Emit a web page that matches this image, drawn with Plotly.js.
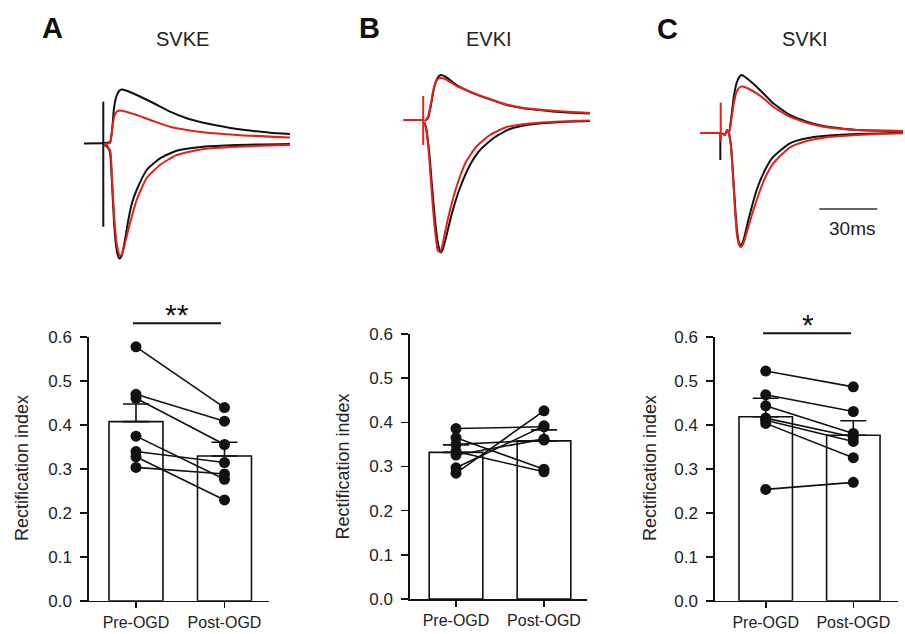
<!DOCTYPE html>
<html>
<head>
<meta charset="utf-8">
<script src="https://cdn.plot.ly/plotly-3.0.1.min.js"></script>
<style>html,body{margin:0;padding:0;background:#fff;}#chart{width:905px;height:634px;}</style>
</head>
<body>
<div id="chart"></div>
<script>
// ---------- Bar-chart data (Rectification index) ----------
const categories = ['Pre-OGD', 'Post-OGD'];
const yTicks = [0, 0.1, 0.2, 0.3, 0.4, 0.5, 0.6];

const svkePre  = [0.577, 0.469, 0.460, 0.374, 0.339, 0.327, 0.303];
const svkePost = [0.439, 0.408, 0.355, 0.276, 0.314, 0.229, 0.288];
const svkeMean = [0.407, 0.329];
const svkeSem  = [0.040, 0.031];

const evkiPre  = [0.386, 0.365, 0.350, 0.334, 0.326, 0.297, 0.285];
const evkiPost = [0.390, 0.294, 0.360, 0.288, 0.362, 0.392, 0.426];
const evkiMean = [0.332, 0.358];
const evkiSem  = [0.017, 0.025];

const svkiPre  = [0.522, 0.468, 0.443, 0.415, 0.410, 0.403, 0.253];
const svkiPost = [0.486, 0.430, 0.380, 0.372, 0.362, 0.325, 0.269];
const svkiMean = [0.418, 0.376];
const svkiSem  = [0.042, 0.033];

// ---------- Example current traces (time ms, current a.u.) ----------
// Panel A (SVKE)
const aBaseT = [2.1, 11.4];
const aBaseI = [0, 0.2];
const aArtT = [12.05, 12.05];
const aArtI = [41.8, -83.2];
const aPreOutT = [11.4, 15.5, 16.6, 17.6, 18.9, 20.2, 21.7, 23.8, 29.3, 37.9, 46.6, 55.2, 63.8, 72.4, 81.1, 89.7, 98.3, 108.6];
const aPreOutI = [0.2, 1.5, 13.5, 35.5, 47.5, 52.5, 54, 53, 48.5, 40.5, 31.8, 25.2, 20.8, 17.5, 14.5, 12.5, 10.8, 9.5];
const aPostOutT = [12.4, 15.5, 16.6, 17.8, 19.1, 20.7, 23.3, 29.3, 37.9, 46.6, 55.2, 63.8, 81.1, 108.6];
const aPostOutI = [-0.5, 0.5, 13.5, 27.5, 32, 33, 32, 28.5, 22.5, 16.8, 13.5, 11.2, 8.5, 6];
const aPreInT = [11.9, 14.0, 15.5, 16.6, 17.6, 18.6, 19.7, 20.4, 21.5, 22.8, 25.0, 26.9, 29.3, 34.5, 41.4, 50.0, 63.8, 81.1, 108.6];
const aPreInI = [-0.5, -2.5, -8.5, -41.5, -78.5, -101.5, -112.5, -115, -112.5, -101.5, -76.5, -59.5, -46.5, -26.5, -14.8, -7.2, -3.2, -1.5, -0.5];
const aPostInT = [12.4, 15.5, 16.6, 17.8, 19.1, 20.4, 21.5, 22.8, 25.9, 29.3, 34.5, 41.4, 50.0, 63.8, 81.1, 108.6];
const aPostInI = [-1.5, -6.5, -36.5, -76.5, -101.5, -111.5, -111.5, -103.5, -79.5, -56.5, -34.5, -21.5, -11.5, -5.5, -3.2, -1.5];

// Panel B (EVKI)
const bBaseT = [4.3, 14.6];
const bBaseI = [0, 0];
const bArtT = [14.6, 14.6];
const bArtI = [24, -25];
const bPreOutT = [15.5, 17.1, 18.6, 20.2, 21.7, 23.6, 25.9, 31.9, 40.5, 49.1, 57.8, 66.4, 75.0, 83.7, 100.9];
const bPreOutI = [-1, 2, 15, 32, 41, 45, 43.5, 35, 26.7, 20.7, 15, 11.7, 10, 8.3, 6.5];
const bPostOutT = [15.5, 17.1, 18.6, 20.2, 21.7, 23.3, 25.9, 31.9, 40.5, 49.1, 57.8, 66.4, 83.7, 100.9];
const bPostOutI = [-1, 3, 17, 33, 40, 42, 41, 34, 27, 21, 15.5, 12, 9, 7];
const bPreInT = [15.0, 16.0, 17.6, 19.1, 20.7, 22.2, 23.6, 24.8, 26.7, 29.5, 33.6, 38.8, 44.0, 51.7, 59.5, 69.8, 85.4, 100.9];
const bPreInI = [-2, -7, -30, -65, -100, -123, -132.5, -129, -115, -93, -68, -45, -30, -17, -9, -4.5, -2, -1];
const bPostInT = [15.0, 16.0, 17.6, 19.1, 20.7, 22.2, 23.3, 24.6, 25.9, 28.5, 32.1, 36.7, 41.9, 49.1, 57.8, 69.8, 85.4, 100.9];
const bPostInI = [-2, -8, -35, -75, -110, -131, -132, -125, -112, -90, -65, -42, -27, -15, -7, -3.5, -1.5, -0.5];

// Panel C (SVKI)
const cBaseT = [2.6, 12.9];
const cBaseI = [0, 0];
const cArtPreT = [13.1, 13.1];
const cArtPreI = [0, -27];
const cArtPostT = [13.3, 13.3];
const cArtPostI = [30.3, -8.7];
const cPreOutT = [14.0, 15.5, 16.6, 17.6, 18.6, 20.2, 21.7, 23.3, 24.3, 25.9, 28.5, 31.9, 36.2, 40.5, 49.1, 57.8, 66.4, 75.0, 83.7, 107.6];
const cPreOutI = [0, -2, 3, 0, 13, 38, 51, 57, 58, 56, 52, 46.3, 38, 29.7, 18, 11.3, 7, 4.7, 3, 2];
const cPostOutT = [14.0, 15.5, 16.6, 17.6, 18.6, 20.2, 21.7, 23.3, 24.8, 26.9, 31.9, 36.2, 40.5, 49.1, 57.8, 66.4, 83.7, 107.6];
const cPostOutI = [0, -2, 3, 0, 11, 31, 42, 46, 46.5, 45, 39.7, 33.5, 26.3, 16.3, 10.3, 6.3, 3, 2];
const cPreInT = [17.6, 18.6, 19.7, 20.7, 21.7, 22.8, 23.8, 25.1, 27.6, 31.9, 36.2, 40.5, 49.1, 57.8, 66.4, 83.7, 107.6];
const cPreInI = [0, -12, -42, -72, -97, -110, -113, -107, -87, -57, -37, -23.7, -10.3, -5.3, -3, -1, 0.3];
const cPostInT = [17.6, 18.6, 19.7, 20.7, 21.7, 22.8, 23.8, 25.1, 27.6, 31.9, 36.2, 40.5, 49.1, 57.8, 66.4, 83.7, 107.6];
const cPostInI = [0, -13, -45, -77, -102, -112, -114, -110, -93.7, -67, -45, -30.3, -14.3, -8, -4.7, -2, -0.3];

const scaleBarMs = 30;
const scaleBarStart = 64.3;
const scaleBarLevel = -76;

// ---------- styling ----------
const BLACK = '#111111';
const RED = '#e3201b';
const FONT = 'Liberation Sans, Arial, Helvetica, sans-serif';
const W = 905, H = 634;
const px = v => v / W;
const py = v => 1 - v / H;

const traces = [];

function lineTrace(t, i, color, xa, ya, width) {
  return {type: 'scatter', mode: 'lines', x: t, y: i, xaxis: xa, yaxis: ya,
    line: {color: color, width: width || 2, shape: 'spline', smoothing: 0.5},
    hoverinfo: 'skip', showlegend: false};
}
function straight(t, i, color, xa, ya, width) {
  return {type: 'scatter', mode: 'lines', x: t, y: i, xaxis: xa, yaxis: ya,
    line: {color: color, width: width || 2}, hoverinfo: 'skip', showlegend: false};
}

// Panel A traces (axes x4/y4)
traces.push(straight(aBaseT, aBaseI, BLACK, 'x4', 'y4'));
traces.push(straight(aArtT, aArtI, BLACK, 'x4', 'y4', 2));
traces.push(lineTrace(aPreOutT, aPreOutI, BLACK, 'x4', 'y4'));
traces.push(lineTrace(aPreInT, aPreInI, BLACK, 'x4', 'y4'));
traces.push(lineTrace(aPostOutT, aPostOutI, RED, 'x4', 'y4'));
traces.push(lineTrace(aPostInT, aPostInI, RED, 'x4', 'y4'));

// Panel B traces (x5/y5)
traces.push(lineTrace(bPreOutT, bPreOutI, BLACK, 'x5', 'y5'));
traces.push(lineTrace(bPreInT, bPreInI, BLACK, 'x5', 'y5'));
traces.push(straight(bBaseT, bBaseI, RED, 'x5', 'y5'));
traces.push(straight(bArtT, bArtI, RED, 'x5', 'y5', 2));
traces.push(lineTrace(bPostOutT, bPostOutI, RED, 'x5', 'y5'));
traces.push(lineTrace(bPostInT, bPostInI, RED, 'x5', 'y5'));

// Panel C traces (x6/y6)
traces.push(straight(cArtPreT, cArtPreI, BLACK, 'x6', 'y6', 2));
traces.push(lineTrace(cPreOutT, cPreOutI, BLACK, 'x6', 'y6'));
traces.push(lineTrace(cPreInT, cPreInI, BLACK, 'x6', 'y6'));
traces.push(straight(cBaseT, cBaseI, RED, 'x6', 'y6'));
traces.push(straight(cArtPostT, cArtPostI, RED, 'x6', 'y6', 2));
traces.push(lineTrace(cPostOutT, cPostOutI, RED, 'x6', 'y6'));
traces.push(lineTrace(cPostInT, cPostInI, RED, 'x6', 'y6'));
// scale bar
traces.push(straight([scaleBarStart, scaleBarStart + scaleBarMs], [scaleBarLevel, scaleBarLevel], '#333', 'x6', 'y6', 1.5));

// Bar panels
function barPanel(pre, post, mean, sem, xa, ya) {
  traces.push({type: 'bar', x: [0, 1], y: mean, xaxis: xa, yaxis: ya, width: 0.61,
    marker: {color: '#ffffff', line: {color: BLACK, width: 1.6}},
    error_y: {type: 'data', symmetric: false, array: sem, arrayminus: [0, 0],
      color: BLACK, thickness: 1.6, width: 13},
    hoverinfo: 'skip', showlegend: false});
  const xs = [], ys = [];
  for (let k = 0; k < pre.length; k++) {
    xs.push(0, 1, null);
    ys.push(pre[k], post[k], null);
  }
  traces.push({type: 'scatter', mode: 'lines+markers', x: xs, y: ys, xaxis: xa, yaxis: ya,
    line: {color: BLACK, width: 1.6}, marker: {color: BLACK, size: 11},
    connectgaps: false, cliponaxis: false, hoverinfo: 'skip', showlegend: false});
}
barPanel(svkePre, svkePost, svkeMean, svkeSem, 'x', 'y');
barPanel(evkiPre, evkiPost, evkiMean, evkiSem, 'x2', 'y2');
barPanel(svkiPre, svkiPost, svkiMean, svkiSem, 'x3', 'y3');

function barX(domain, range, anchor) {
  return {domain: domain, range: range, anchor: anchor, showgrid: false, zeroline: false,
    showline: true, linecolor: BLACK, linewidth: 1.6, ticks: 'outside', ticklen: 6,
    tickwidth: 1.6, tickcolor: BLACK, tickvals: [0, 1], ticktext: categories,
    ticklabelstandoff: 0,
    tickfont: {family: FONT, size: 16, color: '#222'}, fixedrange: true};
}
function barY(domain, anchor) {
  return {domain: domain, range: [0, 0.6], anchor: anchor, showgrid: false, zeroline: false,
    showline: true, linecolor: BLACK, linewidth: 1.6, ticks: 'outside', ticklen: 7,
    tickwidth: 1.6, tickcolor: BLACK, tickvals: yTicks, tickformat: '.1f',
    ticklabelstandoff: 5,
    tickfont: {family: FONT, size: 17, color: '#222'}, fixedrange: true};
}
function hidden(domain, range, anchor) {
  return {domain: domain, range: range, anchor: anchor, visible: false, fixedrange: true};
}

const traceYDom = [py(270), py(60)];

function note(text, x, y, size, extra) {
  return Object.assign({text: text, x: px(x), y: py(y), xref: 'paper', yref: 'paper',
    xanchor: 'center', yanchor: 'middle', showarrow: false,
    font: {family: FONT, size: size, color: '#222'}}, extra || {});
}

const layout = {
  width: W, height: H,
  margin: {l: 0, r: 0, t: 0, b: 0},
  paper_bgcolor: '#ffffff', plot_bgcolor: 'rgba(0,0,0,0)',
  showlegend: false,
  font: {family: FONT, color: '#222'},
  xaxis: barX([px(89), px(269)], [-0.531, 1.503], 'y'),
  yaxis: barY([py(600.7), py(336.7)], 'x'),
  xaxis2: barX([px(410), px(587)], [-0.523, 1.489], 'y2'),
  yaxis2: barY([py(599), py(334)], 'x2'),
  xaxis3: barX([px(715), px(898)], [-0.579, 1.510], 'y3'),
  yaxis3: barY([py(600.7), py(336.7)], 'x3'),
  xaxis4: hidden([px(80), px(300)], [0, 113.8], 'y4'),
  yaxis4: hidden(traceYDom, [-126.5, 83.5], 'x4'),
  xaxis5: hidden([px(395), px(600)], [0, 106.05], 'y5'),
  yaxis5: hidden(traceYDom, [-150, 60], 'x5'),
  xaxis6: hidden([px(695), px(905)], [0, 108.64], 'y6'),
  yaxis6: hidden(traceYDom, [-137, 73], 'x6'),
  shapes: [
    {type: 'line', xref: 'paper', yref: 'paper', x0: px(133), x1: px(221), y0: py(323.3), y1: py(323.3),
      line: {color: BLACK, width: 2}},
    {type: 'line', xref: 'paper', yref: 'paper', x0: px(763), x1: px(851), y0: py(333.3), y1: py(333.3),
      line: {color: BLACK, width: 2}}
  ],
  annotations: [
    note('<b>A</b>', 52, 28, 29, {font: {family: FONT, size: 29, color: '#111'}}),
    note('<b>B</b>', 369, 28, 29, {font: {family: FONT, size: 29, color: '#111'}}),
    note('<b>C</b>', 667, 29, 29, {font: {family: FONT, size: 29, color: '#111'}}),
    note('SVKE', 182, 39, 20),
    note('EVKI', 489, 39, 20),
    note('SVKI', 805, 39, 20),
    note('Rectification index', 22, 468, 18, {textangle: -90}),
    note('Rectification index', 342, 466.5, 18, {textangle: -90}),
    note('Rectification index', 650, 468, 18, {textangle: -90}),
    note('**', 177, 314, 30, {font: {family: FONT, size: 30, color: '#111'}}),
    note('*', 808, 324, 30, {font: {family: FONT, size: 30, color: '#111'}}),
    note(scaleBarMs + 'ms', 852, 229, 19)
  ]
};

Plotly.newPlot('chart', traces, layout, {staticPlot: true, displayModeBar: false});
</script>
</body>
</html>
